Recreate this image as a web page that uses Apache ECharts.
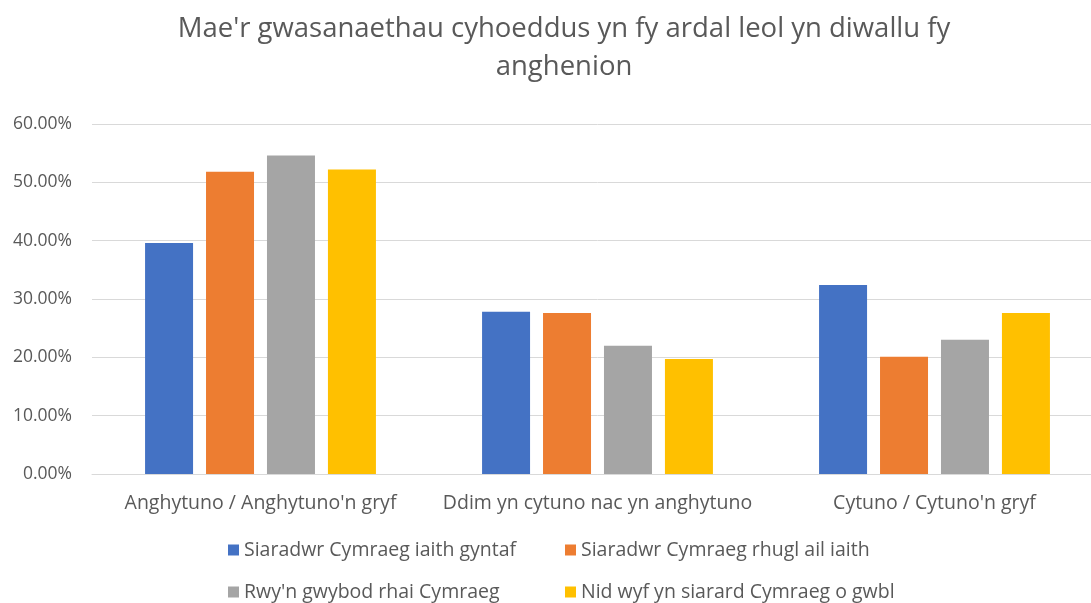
<!DOCTYPE html>
<html>
<head>
<meta charset="utf-8">
<title>Mae'r gwasanaethau cyhoeddus</title>
<script src="https://cdn.jsdelivr.net/npm/echarts@6/dist/echarts.min.js"></script>
<style>
  html, body { margin: 0; padding: 0; background: #fff; overflow: hidden; }
  /* the original chart is a little wider than the window and cut off on the right */
  #chart { width: 1128px; height: 603px; }
</style>
</head>
<body>
<div id="chart"></div>
<script>
// categories and series (percent values)
const categories = ['Anghytuno / Anghytuno\'n gryf', 'Ddim yn cytuno nac yn anghytuno', 'Cytuno / Cytuno\'n gryf']
const seriesNames = [
  'Siaradwr Cymraeg iaith gyntaf',
  'Siaradwr Cymraeg rhugl ail iaith',
  'Rwy\'n gwybod rhai Cymraeg',
  'Nid wyf yn siarard Cymraeg o gwbl'
]
const firstLanguage = [39.6, 27.8, 32.4]
const fluentSecond = [51.8, 27.6, 20.1]
const someWelsh = [54.6, 22.0, 23.0]
const noWelsh = [52.2, 19.7, 27.6]
const yTicks = [0, 10, 20, 30, 40, 50, 60]

const colors = ['#4472C4', '#ED7D31', '#A5A5A5', '#FFC000']
const font = 'Open Sans'
const textColor = '#595959'

const myChart = echarts.init(document.getElementById('chart'))

const values = [firstLanguage, fluentSecond, someWelsh, noWelsh]
// one legend per item so the two columns line up like the original
const legendPos = [[228, 540], [565, 540], [228, 582], [565, 582]]

myChart.setOption({
  animation: false,
  color: colors,
  title: {
    text: 'Mae\'r gwasanaethau cyhoeddus yn fy ardal leol yn diwallu fy\nanghenion',
    left: 'center',
    top: 5,
    textStyle: {
      fontFamily: font,
      fontSize: 27.5,
      fontWeight: 'normal',
      color: textColor,
      lineHeight: 38
    }
  },
  legend: seriesNames.map(function (name, i) {
    return {
      data: [name],
      left: legendPos[i][0],
      top: legendPos[i][1],
      padding: 0,
      icon: 'rect',
      itemWidth: 11,
      itemHeight: 11,
      itemGap: 0,
      selectedMode: false,
      textStyle: { fontFamily: font, fontSize: 19.5, color: textColor }
    }
  }),
  grid: {
    left: 92,
    top: 124,
    width: 1011,
    bottom: 129
  },
  xAxis: {
    type: 'category',
    data: categories,
    axisTick: { show: false },
    axisLine: { lineStyle: { color: '#d9d9d9' } },
    axisLabel: {
      interval: 0,
      margin: 19,
      fontFamily: font,
      fontSize: 19.5,
      color: textColor
    }
  },
  yAxis: {
    type: 'value',
    min: yTicks[0],
    max: yTicks[yTicks.length - 1],
    interval: 10,
    axisLine: { show: false },
    axisTick: { show: false },
    splitLine: { lineStyle: { color: '#d9d9d9', width: 1 } },
    axisLabel: {
      margin: 20,
      fontFamily: font,
      fontSize: 17.5,
      color: textColor,
      formatter: function (v) { return v.toFixed(2) + '%' }
    }
  },
  series: seriesNames.map(function (name, i) {
    return {
      name: name,
      type: 'bar',
      data: values[i],
      barWidth: 48,
      barGap: '27%'
    }
  })
})
window.addEventListener('resize', function () {
  myChart.resize()
})
</script>
</body>
</html>
